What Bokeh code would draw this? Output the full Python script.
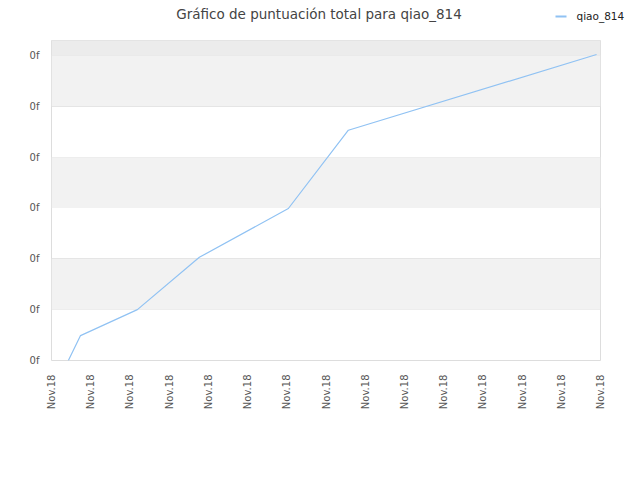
import math
from bokeh.plotting import figure
from bokeh.layouts import column
from bokeh.models import FixedTicker, Range1d, BoxAnnotation
from bokeh.core.properties import value
from bokeh.embed import file_html
from bokeh.resources import INLINE

title_text = "Gráfico de puntuación total para qiao_814"
series_name = "qiao_814"
x_vals = [0.43, 0.74, 2.19, 3.77, 6.04, 7.57, 13.9]
y_vals = [0.0, 0.49, 1.0, 2.03, 2.99, 4.53, 6.02]
x_ticks = list(range(15))
x_tick_labels = ["Nov.18"] * 15
y_ticks = list(range(7))
y_tick_labels = ["0f"] * 7

FONT = "DejaVu Sans"
LINE_COLOR = "#90c2f3"

# ---- header (title + legend), pixel coordinates ----
head = figure(width=640, height=40, output_backend="svg", toolbar_location=None,
              x_range=Range1d(0, 640), y_range=Range1d(40, 0),
              x_axis_type=None, y_axis_type=None, title_location=None,
              min_border=0)
head.frame_align = False
head.outline_line_color = None
head.background_fill_color = "white"
head.border_fill_color = "white"
head.xgrid.visible = False
head.ygrid.visible = False
head.text(x=[318.5], y=[13], text=[title_text], text_font=value(FONT),
          text_font_size="13.5px", text_color="#444444",
          text_align="center", text_baseline="middle")
# legend entry for the series
head.segment(x0=[555], y0=[16], x1=[566], y1=[16], line_color=LINE_COLOR, line_width=2)
head.text(x=[576], y=[15.5], text=[series_name], text_font=value(FONT),
          text_font_size="10.5px", text_color="#222222",
          text_align="left", text_baseline="middle")

# ---- main chart ----
p = figure(width=640, height=440, output_backend="svg", toolbar_location=None,
           x_range=Range1d(0, 14), y_range=Range1d(0, 6.295),
           min_border_left=51, min_border_right=40, min_border_top=0,
           min_border_bottom=120, title_location=None)
p.frame_align = False

p.background_fill_color = "white"
p.border_fill_color = "white"
p.outline_line_color = "#dddddd"
p.outline_line_width = 1

for lo, hi, col in [(1, 2, "#f2f2f2"), (3, 4, "#f2f2f2"), (5, 6, "#f2f2f2"), (6, 7, "#ececec")]:
    p.add_layout(BoxAnnotation(bottom=lo, top=hi, fill_color=col, fill_alpha=1.0,
                               line_color=None, level="underlay"))

p.xgrid.grid_line_color = None
p.ygrid.grid_line_color = "#e0e0e0"
p.ygrid.ticker = FixedTicker(ticks=y_ticks)

p.xaxis.ticker = FixedTicker(ticks=x_ticks)
p.xaxis.major_label_overrides = {t: l for t, l in zip(x_ticks, x_tick_labels)}
p.xaxis.major_label_orientation = math.pi / 2
p.yaxis.ticker = FixedTicker(ticks=y_ticks)
p.yaxis.major_label_overrides = {t: l for t, l in zip(y_ticks, y_tick_labels)}

for ax in (p.xaxis[0], p.yaxis[0]):
    ax.axis_line_color = None
    ax.major_tick_line_color = None
    ax.minor_tick_line_color = None
    ax.major_label_text_font = FONT
    ax.major_label_text_font_size = "10px"
    ax.major_label_text_color = "#555555"
p.xaxis.major_label_standoff = 8
p.yaxis.major_label_standoff = 6

p.line(x_vals, y_vals, line_color=LINE_COLOR, line_width=1.2)

layout = column(head, p, spacing=0)
open("out.html", "w").write(file_html(layout, INLINE))
